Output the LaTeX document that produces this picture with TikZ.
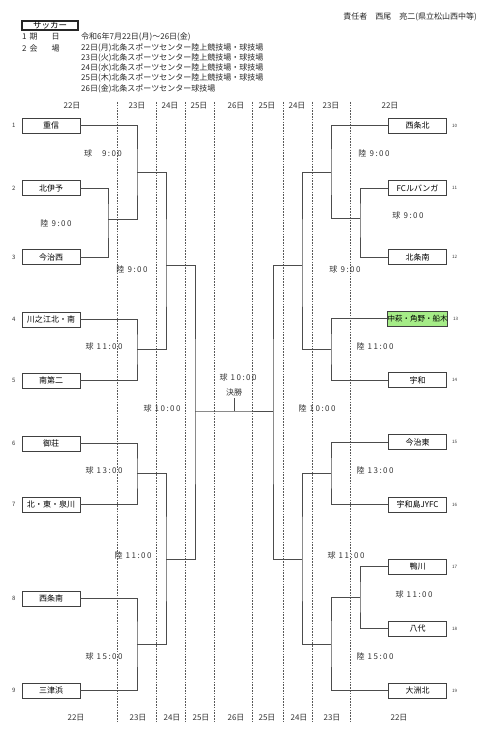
\documentclass[tikz,border=0pt]{standalone}
\usepackage{fontspec}
\setmainfont{Noto Sans CJK JP}
\newfontfamily\timefont[LetterSpace=18]{Noto Sans CJK JP}
\usetikzlibrary{positioning}

\newcommand{\fsz}[1]{\fontsize{#1}{#1}\selectfont}
\definecolor{hlgreen}{RGB}{165,236,135}

\begin{document}
\begin{tikzpicture}[
  x=1pt, y=-1pt,
  bracket/.style={draw=black!70, line width=0.8pt},
  team/.style={draw=black!75, line width=0.9pt, minimum width=58pt, minimum height=15pt, inner sep=0pt, font=\fsz{8}},
  daysep/.style={draw=black!65, line width=0.5pt, dash pattern=on 1.6pt off 1.2pt},
  tlabel/.style={font=\timefont\fsz{8}, inner sep=1pt, text=black!80},
  day/.style={font=\fsz{8}, inner sep=1pt, text=black!80},
  head/.style={anchor=west, font=\fsz{8}, inner sep=0pt, text=black!85},
  lnum/.style={font=\fsz{6}, inner sep=0pt, text=black!80},
  rnum/.style={font=\fsz{4.5}, inner sep=0pt, text=black!80}
]
\useasboundingbox (0,0) rectangle (488,746);

% --- Header ---
\node[draw=black!85, line width=1.1pt, minimum width=56pt, minimum height=9pt, inner sep=0pt, font=\fsz{8.5}] (title) at (50,25.5) {サッカー};
\node[anchor=east, font=\fsz{8}, inner sep=0pt, text=black!85] (chief) at (477,17) {責任者　西尾　亮二(県立松山西中等)};

\node[head] (kijitu) at (22,37) {1\hspace{3pt}期\hspace{14pt}日};
\node[head] (kaijo) at (22,48) {2\hspace{3pt}会\hspace{14pt}場};
\node[head] (period) at (81,37) {令和6年7月22日(月)～26日(金)};
\node[head] (v22) at (81,48) {22日(月)北条スポーツセンター陸上競技場・球技場};
\node[head] (v23) at (81,58) {23日(火)北条スポーツセンター陸上競技場・球技場};
\node[head] (v24) at (81,68) {24日(水)北条スポーツセンター陸上競技場・球技場};
\node[head] (v25) at (81,78) {25日(木)北条スポーツセンター陸上競技場・球技場};
\node[head] (v26) at (81,89) {26日(金)北条スポーツセンター球技場};

% --- Day columns ---
\foreach \x in {117,156,185,214,252,283,312,350}
  \draw[daysep] (\x,102) -- (\x,722);
\foreach \x/\d [count=\i] in {72/22日,137/23日,170/24日,199/25日,236/26日,267/25日,297/24日,331/23日,390/22日}
  \node[day] (top\i) at (\x,106) {\d};
\foreach \x/\d [count=\i] in {76/22日,138/23日,172/24日,201/25日,236/26日,267/25日,299/24日,332/23日,399/22日}
  \node[day] (bot\i) at (\x,718) {\d};

% --- Teams (left) ---
\node[team] (t1) at (51,125.5) {重信};
\node[team] (t2) at (51,188) {北伊予};
\node[team] (t3) at (51,257) {今治西};
\node[team] (t4) at (51,319.5) {川之江北・南};
\node[team] (t5) at (51,380.5) {南第二};
\node[team] (t6) at (51,443.5) {御荘};
\node[team] (t7) at (51,504.5) {北・東・泉川};
\node[team] (t8) at (51,598.5) {西条南};
\node[team] (t9) at (51,690.5) {三津浜};

% --- Teams (right) ---
\node[team] (t10) at (417.5,125.5) {西条北};
\node[team] (t11) at (417.5,188) {FCルバンガ};
\node[team] (t12) at (417.5,257) {北条南};
\node[team, fill=hlgreen, font=\fsz{7.5}] (t13) at (417.5,318.5) {中萩・角野・船木};
\node[team] (t14) at (417.5,380) {宇和};
\node[team] (t15) at (417.5,442) {今治東};
\node[team] (t16) at (417.5,504.5) {宇和島JYFC};
\node[team] (t17) at (417.5,566.5) {鴨川};
\node[team] (t18) at (417.5,628.5) {八代};
\node[team] (t19) at (417.5,690.5) {大洲北};

\foreach \i in {1,...,9}
  \node[lnum, left=6pt of t\i] (n\i) {\i};
\foreach \i in {10,...,19}
  \node[rnum, right=5pt of t\i] (n\i) {\i};

% --- Junctions ---
\coordinate (g23) at (108,219);
\coordinate (g1) at (137,172);
\coordinate (g45) at (137,349);
\coordinate (q1) at (166,265);
\coordinate (g67) at (137,473);
\coordinate (g89) at (137,644);
\coordinate (q2) at (166,559);
\coordinate (s1) at (195,411);

\coordinate (g1112) at (360,218);
\coordinate (g10) at (331,172);
\coordinate (g1314) at (331,349);
\coordinate (q3) at (302,265);
\coordinate (g1516) at (331,473);
\coordinate (g1718) at (360,597);
\coordinate (g19) at (331,644);
\coordinate (q4) at (302,559);
\coordinate (s2) at (273,411);

\coordinate (fin) at (234,411);
\coordinate (fintop) at (234,398);

% --- Brackets ---
\draw[bracket] (t2.east) -| (g23) |- (t3.east);
\draw[bracket] (t1.east) -| (g1) |- (g23);
\draw[bracket] (t4.east) -| (g45) |- (t5.east);
\draw[bracket] (g1) -| (q1) |- (g45);
\draw[bracket] (t6.east) -| (g67) |- (t7.east);
\draw[bracket] (t8.east) -| (g89) |- (t9.east);
\draw[bracket] (g67) -| (q2) |- (g89);
\draw[bracket] (q1) -| (s1) |- (q2);

\draw[bracket] (t11.west) -| (g1112) |- (t12.west);
\draw[bracket] (t10.west) -| (g10) |- (g1112);
\draw[bracket] (t13.west) -| (g1314) |- (t14.west);
\draw[bracket] (g10) -| (q3) |- (g1314);
\draw[bracket] (t15.west) -| (g1516) |- (t16.west);
\draw[bracket] (t17.west) -| (g1718) |- (t18.west);
\draw[bracket] (t19.west) -| (g19) |- (g1718);
\draw[bracket] (g1516) -| (q4) |- (g19);
\draw[bracket] (q3) -| (s2) |- (q4);

% final
\draw[bracket] (s1) -- (fin) -- (s2);
\draw[bracket] (fin) -- (fintop);

% --- Match times ---
\node[tlabel] (m1) at (103,153) {球\hspace{10pt}9:00};
\node[tlabel] (m23) at (56,223) {陸 9:00};
\node[tlabel] (mq1) at (132,269) {陸 9:00};
\node[tlabel] (m45) at (104,346) {球 11:00};
\node[tlabel] (ms1) at (162,408) {球 10:00};
\node[tlabel] (m67) at (104,470) {球 13:00};
\node[tlabel] (mq2) at (133,555) {陸 11:00};
\node[tlabel] (m89) at (104,656) {球 15:00};

\node[tlabel] (mfin) at (238,377) {球 10:00};
\node[tlabel, font=\fsz{8}] (kessho) at (234,392) {決勝};

\node[tlabel] (m10) at (374,153) {陸 9:00};
\node[tlabel] (m1112) at (408,215) {球 9:00};
\node[tlabel] (mq3) at (345,269) {球 9:00};
\node[tlabel] (m1314) at (375,346) {陸 11:00};
\node[tlabel] (ms2) at (317,408) {陸 10:00};
\node[tlabel] (m1516) at (375,470) {陸 13:00};
\node[tlabel] (mq4) at (346,555) {球 11:00};
\node[tlabel] (m1718) at (414,594) {球 11:00};
\node[tlabel] (m19) at (375,656) {陸 15:00};

\end{tikzpicture}
\end{document}
